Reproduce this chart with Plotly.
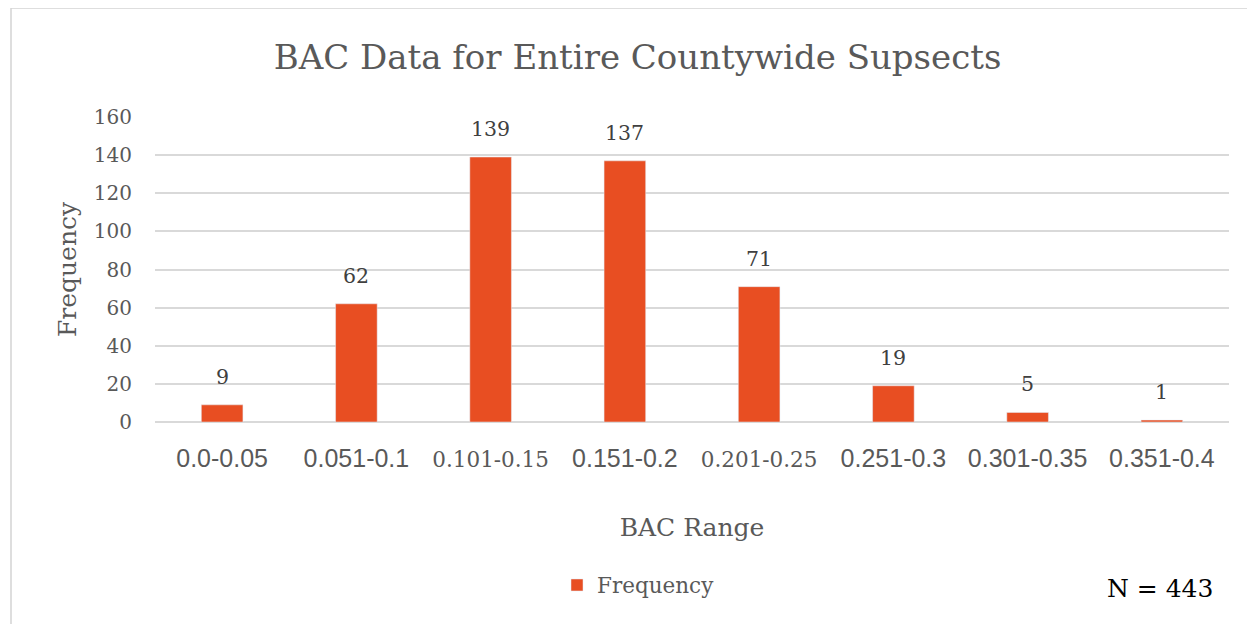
import plotly.graph_objects as go

categories = ["0.0-0.05", "0.051-0.1", "0.101-0.15", "0.151-0.2", "0.201-0.25", "0.251-0.3", "0.301-0.35", "0.351-0.4"]
frequency = [9, 62, 139, 137, 71, 19, 5, 1]
serif_labels = {"0.101-0.15", "0.201-0.25"}
y_ticks = [0, 20, 40, 60, 80, 100, 120, 140, 160]

SERIF = "DejaVu Serif"
SANS = "Liberation Sans"
GRAY = "#595959"
BAR = "#E84E22"

ticktext = []
for c in categories:
    if c in serif_labels:
        ticktext.append(f"<span style='font-family:{SERIF};font-size:21.5px'>{c}</span>")
    else:
        ticktext.append(c)

fig = go.Figure()
fig.add_trace(go.Bar(x=categories, y=frequency, name="Frequency", marker_color=BAR))

for c, v in zip(categories, frequency):
    fig.add_annotation(x=c, y=v, text=str(v), showarrow=False, yanchor="bottom", yshift=14,
                       font=dict(family=SERIF, size=20.5, color="#404040"))

# page has an 8px body margin: figure coords = screen coords - 8
OFF = 8
W, H = 1247, 616
L, R, T, B = 147, 26, 109, 202
pw, ph = W - L - R, H - T - B

def sx(px):
    return (px - OFF - L) / pw

def sy(py):
    return (H - B - (py - OFF)) / ph

fig.add_shape(type="rect", xref="paper", yref="paper",
              x0=sx(11), x1=sx(1290), y0=sy(660), y1=sy(8),
              line=dict(color="#D4D4D4", width=1.5), fillcolor="rgba(0,0,0,0)", layer="below")

fig.add_annotation(xref="paper", yref="paper", x=sx(1160), y=sy(588),
                   text="N = 443", showarrow=False, xanchor="center", yanchor="middle",
                   font=dict(family=SERIF, size=25, color="#000000"))

fig.update_layout(
    width=W, height=H,
    margin=dict(l=L, r=R, t=T, b=B),
    paper_bgcolor="white", plot_bgcolor="white",
    bargap=0.69,
    title=dict(text="BAC Data for Entire Countywide Supsects", x=(637.5 - OFF) / W, xanchor="center",
               y=1 - (57 - OFF) / H, yanchor="middle",
               font=dict(family=SERIF, size=34, color=GRAY)),
    showlegend=True,
    legend=dict(orientation="h", x=sx(557), xanchor="left", y=sy(585), yanchor="middle",
                font=dict(family=SERIF, size=21.5, color=GRAY)),
    xaxis=dict(tickmode="array", tickvals=categories, ticktext=ticktext,
               tickfont=dict(family=SANS, size=25, color=GRAY),
               ticklabelstandoff=19,
               title=dict(text="BAC Range", font=dict(family=SERIF, size=25, color=GRAY), standoff=47),
               showline=False, showgrid=False, ticks=""),
    yaxis=dict(range=[0, 160], tickvals=y_ticks, showgrid=True, gridcolor="#D9D9D9", gridwidth=1.5,
               zeroline=True, zerolinecolor="#D9D9D9", zerolinewidth=1.5,
               tickfont=dict(family=SERIF, size=20, color=GRAY), ticklabelstandoff=22,
               title=dict(text="Frequency", font=dict(family=SERIF, size=25, color=GRAY), standoff=10)),
)

fig.write_html("out.html")
